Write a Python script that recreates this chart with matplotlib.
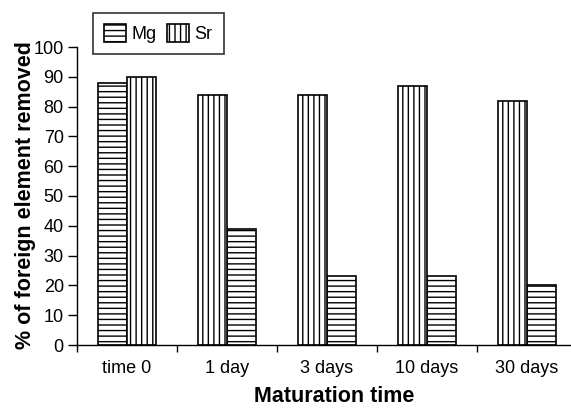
import numpy as np
from matplotlib import pyplot as plt

plt.rcParams["font.family"] = ["Liberation Sans", "DejaVu Sans"]
plt.rcParams["hatch.linewidth"] = 1.0

categories = ["time 0", "1 day", "3 days", "10 days", "30 days"]
mg = [88, 39, 23, 23, 20]
sr = [90, 84, 84, 87, 82]
# in the original figure Mg is drawn left only in the first group
mg_first = [True, False, False, False, False]

x = np.arange(len(categories))
w = 0.29
off = np.array([-w / 2 if f else w / 2 for f in mg_first])

fig = plt.figure(figsize=(5.71, 4.09), dpi=100)
ax = fig.add_axes([77 / 571, 64 / 409, 1 - 77 / 571, (345 - 47) / 409])

ax.bar(x + off, mg, w, color="white", edgecolor="black", hatch="---",
       linewidth=1.2, label="Mg")
ax.bar(x - off, sr, w, color="white", edgecolor="black", hatch="|||",
       linewidth=1.2, label="Sr")

ax.set_xlim(-0.5, 4.44)
ax.set_ylim(0, 100)
ax.set_yticks(np.arange(0, 101, 10))
ax.set_xticks(x)
ax.set_xticklabels(categories, fontsize=13)
ax.set_xticks(np.arange(-0.5, 4.5, 1), minor=True)
ax.tick_params(axis="x", which="major", length=0, pad=11)
ax.tick_params(axis="x", which="minor", length=5, width=1)
ax.tick_params(axis="y", labelsize=13, length=6.5, width=1, pad=3)
for s in ["top", "right"]:
    ax.spines[s].set_visible(False)
ax.spines["left"].set_linewidth(1)
ax.spines["bottom"].set_linewidth(1)

ax.set_xlabel("Maturation time", fontsize=15.5, fontweight="bold")
ax.set_ylabel("% of foreign element removed", fontsize=15.5, fontweight="bold")
ax.xaxis.set_label_coords(0.52, -0.136)
ax.yaxis.set_label_coords(-0.082, 0.503)

leg = ax.legend(loc="upper left", bbox_to_anchor=(16 / 494, 1.114), ncol=2,
                fontsize=13, frameon=True, fancybox=False, edgecolor="black",
                handlelength=1.22, handleheight=1.17, columnspacing=0.6,
                handletextpad=0.3, borderpad=0.6, borderaxespad=0)
leg.get_frame().set_linewidth(1.2)

fig.savefig("out.png", dpi=100)
